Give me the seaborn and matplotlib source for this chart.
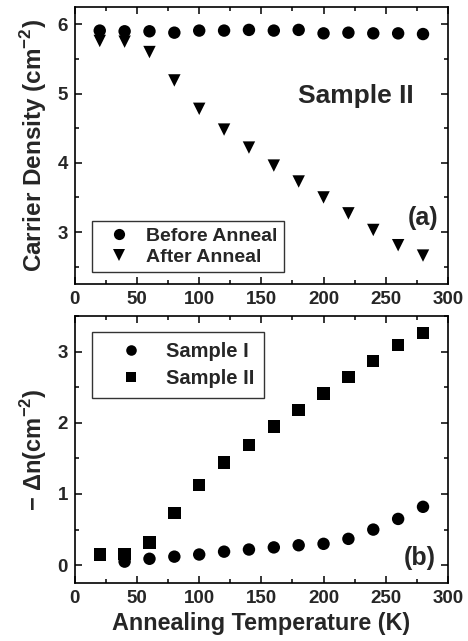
import numpy as np
import pandas as pd
import matplotlib
matplotlib.use("Agg")
import matplotlib.pyplot as plt
import seaborn as sns
from matplotlib.ticker import MultipleLocator

sns.set_theme(style="ticks")
plt.rcParams['font.family'] = ['Liberation Sans', 'DejaVu Sans']
plt.rcParams['font.weight'] = 'bold'
plt.rcParams['mathtext.fontset'] = 'custom'
plt.rcParams['mathtext.rm'] = 'Liberation Sans'
plt.rcParams['mathtext.bf'] = 'Liberation Sans:bold'

# panel (a): carrier density of sample II
temp_a = [20, 40, 60, 80, 100, 120, 140, 160, 180, 200, 220, 240, 260, 280]
before_anneal = [5.91, 5.90, 5.90, 5.88, 5.91, 5.91, 5.92, 5.91, 5.92, 5.87, 5.88, 5.87, 5.87, 5.86]
after_anneal = [5.76, 5.75, 5.60, 5.19, 4.78, 4.48, 4.22, 3.96, 3.73, 3.50, 3.27, 3.03, 2.81, 2.66]

# panel (b): -delta n
temp_s1 = [40, 60, 80, 100, 120, 140, 160, 180, 200, 220, 240, 260, 280]
sample_1 = [0.05, 0.09, 0.12, 0.15, 0.19, 0.22, 0.25, 0.28, 0.30, 0.37, 0.50, 0.65, 0.82]
temp_s2 = [20, 40, 60, 80, 100, 120, 140, 160, 180, 200, 220, 240, 260, 280]
sample_2 = [0.15, 0.16, 0.32, 0.73, 1.13, 1.44, 1.69, 1.95, 2.18, 2.41, 2.64, 2.87, 3.09, 3.26]

df_a = pd.DataFrame({
    'T': temp_a + temp_a,
    'n': before_anneal + after_anneal,
    'kind': ['Before Anneal'] * len(temp_a) + ['After Anneal'] * len(temp_a),
})
df_b = pd.DataFrame({
    'T': temp_s1 + temp_s2,
    'dn': sample_1 + sample_2,
    'kind': ['Sample I'] * len(temp_s1) + ['Sample II'] * len(temp_s2),
})

fig = plt.figure(figsize=(4.68, 6.41), dpi=100)
ax1 = fig.add_axes([0.160, 0.557, 0.797, 0.432])
ax2 = fig.add_axes([0.160, 0.0905, 0.797, 0.4165])


def style_axes(ax):
    ax.set_xlim(0, 300)
    ax.xaxis.set_major_locator(MultipleLocator(50))
    ax.xaxis.set_minor_locator(MultipleLocator(25))
    ax.yaxis.set_major_locator(MultipleLocator(1))
    ax.yaxis.set_minor_locator(MultipleLocator(0.5))
    ax.tick_params(which='both', direction='in', top=True, right=True, width=1.1, color='black')
    ax.tick_params(which='major', length=5, labelsize=13.5, pad=5)
    ax.tick_params(which='minor', length=3)
    for lbl in ax.get_xticklabels() + ax.get_yticklabels():
        lbl.set_fontweight('bold')
    for sp in ax.spines.values():
        sp.set_linewidth(1.2)
        sp.set_color('black')


def style_legend(leg):
    leg.get_frame().set_linewidth(1.0)
    leg.get_frame().set_edgecolor('black')
    for t in leg.get_texts():
        t.set_fontweight('bold')


sns.scatterplot(data=df_a, x='T', y='n', style='kind',
                markers={'Before Anneal': 'o', 'After Anneal': 'v'},
                color='black', s=80, edgecolor='black', linewidth=0, ax=ax1)
ax1.set_ylim(2.25, 6.25)
style_axes(ax1)
ax1.set_xlabel('')
ax1.set_ylabel('Carrier Density (cm$^{-2}$)', fontsize=17.5, fontweight='bold', labelpad=6)
ax1.text(226, 4.96, 'Sample II', fontsize=19, fontweight='bold', ha='center', va='center')
ax1.text(292, 3.2, '(a)', fontsize=18, fontweight='bold', ha='right', va='center')
leg1 = ax1.legend(loc='lower left', bbox_to_anchor=(0.0456, 0.043), borderaxespad=0,
                  fontsize=14, frameon=True, fancybox=False,
                  handlelength=2.2, handletextpad=0.3, borderpad=0.3,
                  labelspacing=0.2, markerscale=0.9)
style_legend(leg1)

sns.scatterplot(data=df_b, x='T', y='dn', style='kind',
                markers={'Sample I': 'o', 'Sample II': 's'},
                color='black', s=80, edgecolor='black', linewidth=0, ax=ax2)
ax2.set_ylim(-0.25, 3.5)
style_axes(ax2)
ax2.set_xlabel('Annealing Temperature (K)', fontsize=16.8, fontweight='bold')
ax2.set_ylabel('\u2212 \u0394n(cm$^{-2}$)', fontsize=17, fontweight='bold', labelpad=6)
ax2.text(290, 0.1, '(b)', fontsize=18, fontweight='bold', ha='right', va='center')
leg2 = ax2.legend(loc='upper left', bbox_to_anchor=(0.0456, 0.940), borderaxespad=0,
                  fontsize=14.5, frameon=True, fancybox=False,
                  handlelength=2.9, handletextpad=0.3, borderpad=0.48,
                  labelspacing=0.42, markerscale=0.85)
style_legend(leg2)

fig.savefig('out.png', dpi=100)
